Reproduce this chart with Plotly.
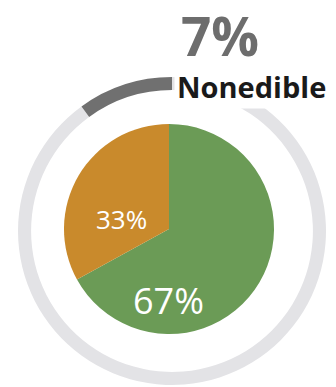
import plotly.graph_objects as go

# Data
slice_labels = ["Main", "Other"]
slice_values = [67, 33]
slice_colors = ["#6b9b56", "#c98a2c"]
ring_labels = ["Rest", "Nonedible"]
ring_values = [90, 10]          # visual share of the dark arc on the ring
ring_colors = ["#e3e3e6", "#707070"]
nonedible_pct = 7
headline_label = "Nonedible"

W, H = 336, 387

def dom(cx, cy, r):
    return dict(x=[(cx - r) / W, (cx + r) / W],
                y=[(H - cy - r) / H, (H - cy + r) / H])

fig = go.Figure()
fig.add_trace(go.Pie(
    labels=ring_labels, values=ring_values, hole=0.915,
    marker=dict(colors=ring_colors, line=dict(width=0)),
    sort=False, direction="clockwise", rotation=0,
    textinfo="none", hoverinfo="label+percent", showlegend=False,
    domain=dom(172, 231, 154),
))
fig.add_trace(go.Pie(
    labels=slice_labels, values=slice_values,
    marker=dict(colors=slice_colors, line=dict(width=0)),
    sort=False, direction="clockwise", rotation=0,
    textinfo="none", hoverinfo="label+percent", showlegend=False,
    domain=dom(169, 229, 105),
))

def px(x):
    return x / W

def py(y):
    return 1 - y / H

anns = [
    dict(x=px(220), y=py(36), text=f"{nonedible_pct}%",
         font=dict(family="Open Sans", size=53, color="#6d6d6d", weight="bold")),
    dict(x=px(251), y=py(86), text=headline_label, bgcolor="white", borderpad=2,
         font=dict(family="Open Sans", size=29, color="#1a1a1a", weight="bold")),
    dict(x=px(121), y=py(219), text=f"{slice_values[1]}%",
         font=dict(family="Open Sans", size=26, color="white")),
    dict(x=px(168), y=py(300), text=f"{slice_values[0]}%",
         font=dict(family="Open Sans", size=36, color="white")),
]
for a in anns:
    a.update(xref="paper", yref="paper", showarrow=False,
             xanchor="center", yanchor="middle")

fig.update_layout(
    width=W, height=H, margin=dict(l=0, r=0, t=0, b=0),
    paper_bgcolor="white", plot_bgcolor="white",
    annotations=anns,
)
fig.write_html("out.html")
